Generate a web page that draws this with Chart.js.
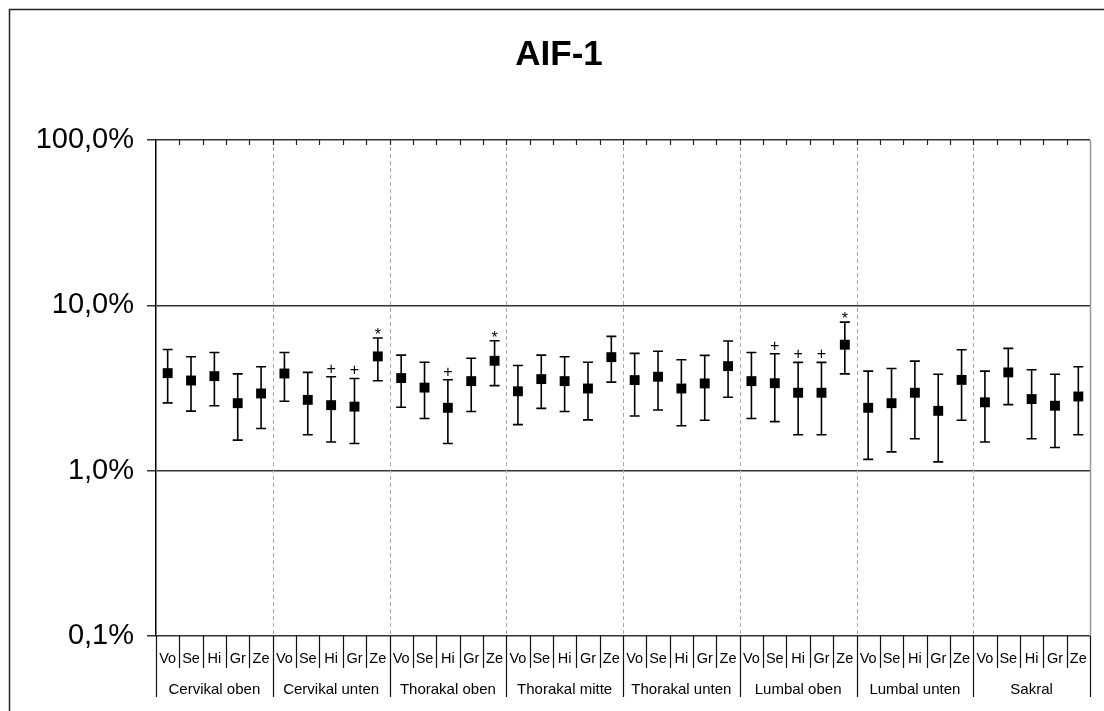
<!DOCTYPE html>
<html>
<head>
<meta charset="utf-8">
<title>AIF-1</title>
<script src="https://cdn.jsdelivr.net/npm/chart.js@4.4.1/dist/chart.umd.min.js"></script>
<style>
  body { margin: 0; background: #fff; }
  #wrap { width: 1104px; height: 711px; position: relative; }
</style>
</head>
<body>
<div id="wrap"><canvas id="myChart"></canvas></div>
<script>
const FONT = '"Liberation Sans", Arial, sans-serif';

// Gruppen und Unterkategorien
const groups = ['Cervikal oben', 'Cervikal unten', 'Thorakal oben', 'Thorakal mitte',
                'Thorakal unten', 'Lumbal oben', 'Lumbal unten', 'Sakral'];
const subLabels = ['Vo', 'Se', 'Hi', 'Gr', 'Ze'];

// Mittelwerte in %, und obere / untere Grenze der Fehlerbalken
const means = [3.89, 3.51, 3.73, 2.56, 2.93,
               3.87, 2.68, 2.49, 2.44, 4.91,
               3.63, 3.18, 2.40, 3.48, 4.62,
               3.02, 3.58, 3.48, 3.14, 4.86,
               3.53, 3.70, 3.14, 3.37, 4.29,
               3.48, 3.38, 2.96, 2.96, 5.78,
               2.40, 2.56, 2.96, 2.30, 3.54,
               2.59, 3.93, 2.71, 2.47, 2.81];
const upper = [5.41, 4.89, 5.19, 3.85, 4.25,
               5.19, 3.93, 3.70, 3.61, 6.34,
               5.00, 4.53, 3.55, 4.79, 6.11,
               4.33, 5.00, 4.89, 4.53, 6.49,
               5.12, 5.28, 4.69, 4.98, 6.08,
               5.19, 5.10, 4.52, 4.52, 7.92,
               4.00, 4.15, 4.60, 3.83, 5.39,
               4.00, 5.49, 4.08, 3.83, 4.25];
const lower = [2.57, 2.29, 2.47, 1.53, 1.80,
               2.63, 1.65, 1.49, 1.46, 3.50,
               2.42, 2.07, 1.46, 2.28, 3.27,
               1.90, 2.38, 2.28, 2.03, 3.43,
               2.14, 2.33, 1.87, 2.02, 2.78,
               2.07, 1.98, 1.65, 1.65, 3.85,
               1.17, 1.30, 1.56, 1.13, 2.02,
               1.49, 2.51, 1.56, 1.38, 1.65];
// Signifikanz-Zeichen über den Balken
const marks = ['', '', '', '', '',
               '', '', '+', '+', '*',
               '', '', '+', '', '*',
               '', '', '', '', '',
               '', '', '', '', '',
               '', '+', '+', '+', '*',
               '', '', '', '', '',
               '', '', '', '', ''];
const yTicks = [0.1, 1, 10, 100];

const labels = [];
groups.forEach(() => subLabels.forEach(s => labels.push(s)));

function fmtPercent(v) {
    return v.toFixed(1).replace('.', ',') + '%';
}

const frame = {
    id: 'frame',
    beforeDraw(chart) {
        const ctx = chart.ctx;
        ctx.save();
        ctx.fillStyle = '#fff';
        ctx.fillRect(0, 0, chart.width, chart.height);
        ctx.strokeStyle = '#222';
        ctx.lineWidth = 1.5;
        ctx.strokeRect(9.5, 9.5, 1200, 800);
        ctx.fillStyle = '#000';
        ctx.font = 'bold 35px ' + FONT;
        ctx.textAlign = 'center';
        ctx.textBaseline = 'middle';
        ctx.fillText('AIF-1', 559, 55);
        ctx.restore();
    },
    beforeDatasetsDraw(chart) {
        const {ctx, chartArea, scales: {x, y}} = chart;
        const n = labels.length;
        ctx.save();
        // gestrichelte Gruppenlinien
        ctx.strokeStyle = '#aaa';
        ctx.lineWidth = 1;
        ctx.setLineDash([4, 3]);
        for (let g = 1; g < groups.length; g++) {
            const px = Math.round(x.getPixelForValue(g * 5 - 0.5)) + 0.5;
            ctx.beginPath();
            ctx.moveTo(px, chartArea.top);
            ctx.lineTo(px, chartArea.bottom);
            ctx.stroke();
        }
        ctx.setLineDash([]);
        // rechter Rand
        ctx.strokeStyle = '#999';
        ctx.lineWidth = 1.5;
        ctx.beginPath();
        ctx.moveTo(chartArea.right + 0.5, chartArea.top);
        ctx.lineTo(chartArea.right + 0.5, chartArea.bottom);
        ctx.stroke();
        // kleine Striche oben
        ctx.strokeStyle = '#222';
        ctx.lineWidth = 1.2;
        for (let k = 1; k < n; k++) {
            const px = Math.round(x.getPixelForValue(k - 0.5)) + 0.5;
            ctx.beginPath();
            ctx.moveTo(px, chartArea.top);
            ctx.lineTo(px, chartArea.top + 5);
            ctx.stroke();
        }
        // Achsenbeschriftung unten
        ctx.strokeStyle = '#111';
        ctx.fillStyle = '#000';
        ctx.textAlign = 'center';
        ctx.textBaseline = 'middle';
        for (let k = 0; k <= n; k++) {
            const px = Math.round(x.getPixelForValue(k - 0.5)) + 0.5;
            const len = (k % 5 === 0) ? 61 : 32;
            ctx.beginPath();
            ctx.moveTo(px, chartArea.bottom);
            ctx.lineTo(px, chartArea.bottom + len);
            ctx.stroke();
        }
        ctx.font = '14.5px ' + FONT;
        labels.forEach((lab, i) => {
            ctx.fillText(lab, x.getPixelForValue(i), chartArea.bottom + 23);
        });
        ctx.font = '15px ' + FONT;
        groups.forEach((gr, g) => {
            ctx.fillText(gr, x.getPixelForValue(g * 5 + 2), chartArea.bottom + 54);
        });
        // Fehlerbalken
        ctx.strokeStyle = '#000';
        ctx.lineWidth = 1.6;
        ctx.font = '16px ' + FONT;
        ctx.textBaseline = 'alphabetic';
        means.forEach((m, i) => {
            const px = x.getPixelForValue(i);
            const top = y.getPixelForValue(upper[i]);
            const bot = y.getPixelForValue(lower[i]);
            ctx.beginPath();
            ctx.moveTo(px, top);
            ctx.lineTo(px, bot);
            ctx.moveTo(px - 5, top);
            ctx.lineTo(px + 5, top);
            ctx.moveTo(px - 5, bot);
            ctx.lineTo(px + 5, bot);
            ctx.stroke();
            if (marks[i]) {
                ctx.fillText(marks[i], px, marks[i] === '*' ? top + 2 : top - 3);
            }
        });
        ctx.restore();
    }
};

const ctx = document.getElementById('myChart').getContext('2d');
const myChart = new Chart(ctx, {
    type: 'line',
    data: {
        labels: labels,
        datasets: [{
            label: 'AIF-1',
            data: means,
            showLine: false,
            pointStyle: 'rect',
            pointRadius: 7,
            pointHoverRadius: 7,
            backgroundColor: '#000',
            borderColor: '#000',
            borderWidth: 0,
        }],
    },
    options: {
        responsive: true,
        maintainAspectRatio: false,
        animation: false,
        events: [],
        layout: { padding: { top: 140, right: 14, left: 0, bottom: 0 } },
        plugins: {
            legend: { display: false },
            tooltip: { enabled: false },
            title: { display: false },
        },
        scales: {
            x: {
                type: 'category',
                offset: true,
                ticks: { display: false },
                grid: { display: false },
                border: { display: false },
                afterFit: (scale) => { scale.height = 75; },
            },
            y: {
                type: 'logarithmic',
                min: 0.1,
                max: 100,
                afterBuildTicks: (scale) => {
                    scale.ticks = yTicks.map(v => ({ value: v }));
                },
                afterFit: (scale) => { scale.width = 156; },
                ticks: {
                    color: '#000',
                    font: { family: FONT, size: 29 },
                    padding: 13,
                    callback: (v) => fmtPercent(v),
                },
                grid: {
                    color: '#333',
                    lineWidth: 1.5,
                    tickLength: 9,
                    tickColor: '#333',
                },
                border: { color: '#000', width: 1.5 },
            },
        },
    },
    plugins: [frame],
});
</script>
</body>
</html>
